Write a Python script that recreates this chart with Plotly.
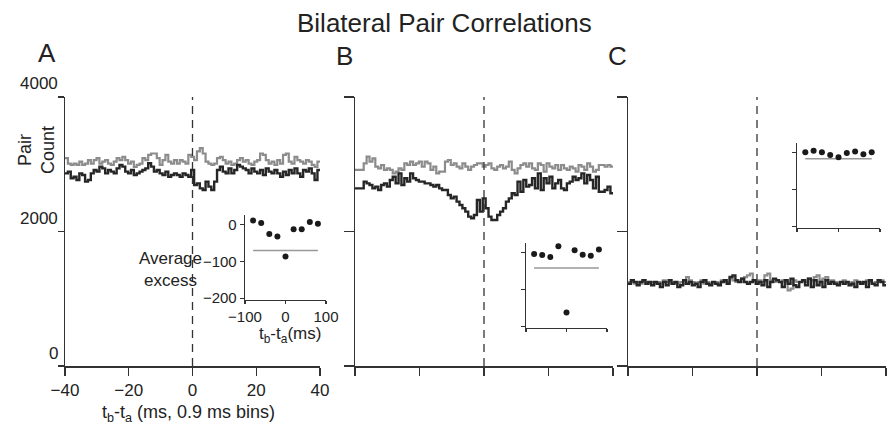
import numpy as np
import plotly.graph_objects as go

# ---------------- data ----------------
bin_width = 0.9  # ms
x_start = -40.0

a_gray = [3090, 3010, 2990, 3010, 2990, 3040, 2990, 3010, 3060, 3010,
          3060, 3090, 3010, 3040, 3060, 3010, 2990, 3040, 3090, 3060,
          3110, 3060, 3010, 3040, 2960, 2990, 3010, 3090, 3060, 3140,
          3160, 3160, 3090, 2990, 3060, 3140, 3040, 3010, 3060, 3010,
          3060, 3040, 3010, 3140,
          3110, 3060, 3190, 3240, 3160, 3040,
          3010, 2990, 3010, 3090, 3110, 3060, 3010, 3040, 2990, 3010,
          3060, 3090, 3040, 3060, 3010, 2990, 3040, 3060, 3160, 3140,
          3060, 3010, 3040, 2990, 3060, 3010, 3140, 3160, 3040, 3010,
          3110, 3060, 3040, 3010, 3060, 3040, 2990, 2960, 3040]
a_black = [2865, 2890, 2791, 2815, 2766, 2865, 2840, 2741, 2766, 2865,
           2915, 2890, 2964, 2939, 2865, 2915, 2890, 2865, 2939, 2989,
           2964, 2890, 2865, 2915, 2840, 2865, 2890, 2915, 2939, 3014,
           2964, 2890, 2915, 2865, 2840, 2890, 2815, 2840, 2865, 2840,
           2815, 2865, 2840, 2815, 2915,
           2691, 2716, 2642, 2617, 2741, 2667, 2617, 2741,
           2915, 2964, 2890, 2865, 2939, 2865, 2915,
           2989, 2964, 2939, 2915, 2865, 2939, 2890, 2865, 2915, 2840,
           2939, 2890, 2865, 2915, 2865, 2815, 2890, 2840, 2915, 2865,
           2939, 2865, 2815, 2915, 2890, 2939, 2865, 2766, 2915]
b_gray = [2915, 2915, 2915, 3014, 3113, 3038, 3088, 2964, 2939, 2989,
          2915, 2939, 2915, 2865, 2890, 2939, 2915, 3014, 2989, 3038,
          2989, 3014, 3038, 2964, 3038, 3014, 2915, 2964, 2865, 2890,
          2890, 3038, 3063, 2989, 3014, 2964, 2939, 3014, 2964, 2915,
          2964, 2989, 3014, 3014, 2964, 2989, 3014, 2939, 2915, 2964,
          2989, 2939, 2964, 3038, 2915, 2865, 2939, 2989, 3014, 2964,
          3014, 2939, 2915, 3014, 2989, 2890, 3014, 2964, 2939, 2989,
          2915, 2989, 2939, 2915, 2964, 2939, 2890, 2989, 2964, 2915,
          3014, 2964, 2890, 2915, 2989, 2989, 2964, 2989, 2964]
b_black = [2642, 2642, 2642, 2741, 2716, 2691, 2642, 2667, 2617, 2691,
           2716, 2667, 2766, 2815, 2716, 2865, 2691, 2791, 2741, 2865,
           2791, 2766, 2741, 2741, 2716, 2716, 2691, 2667, 2691, 2642,
           2617, 2617, 2543, 2493, 2518, 2444, 2394, 2345, 2295, 2221,
           2196, 2245, 2468, 2295, 2493, 2345, 2221, 2171, 2171, 2245,
           2295, 2345, 2444, 2493, 2568, 2543, 2741, 2592, 2766, 2667,
           2691, 2791, 2642, 2865, 2617, 2791, 2716, 2815, 2642, 2716,
           2766, 2642, 2617, 2716, 2741, 2815, 2766, 2791, 2865, 2716,
           2840, 2766, 2642, 2815, 2592, 2592, 2617, 2667, 2568]
c_gray = [1249, 1249, 1224, 1249, 1224, 1274, 1249, 1224, 1249, 1224,
          1249, 1224, 1274, 1249, 1249, 1224, 1249, 1224, 1249, 1224,
          1323, 1274, 1249, 1224, 1249, 1274, 1224, 1249, 1224, 1249,
          1249, 1224, 1274, 1249, 1249, 1299, 1274, 1249, 1249, 1299,
          1323, 1348, 1373, 1274, 1249, 1274, 1249, 1348, 1373, 1274,
          1249, 1274, 1249, 1274, 1249, 1125, 1150, 1274, 1249, 1249,
          1274, 1249, 1299, 1274, 1323, 1348, 1274, 1299, 1323, 1249,
          1274, 1249, 1224, 1249, 1274, 1249, 1224, 1249, 1274, 1249,
          1249, 1224, 1274, 1249, 1224, 1249, 1249, 1274, 1249]
c_black = [1224, 1274, 1249, 1200, 1249, 1274, 1224, 1249, 1200, 1249,
           1224, 1175, 1249, 1200, 1274, 1224, 1249, 1175, 1200, 1274,
           1224, 1249, 1200, 1224, 1175, 1249, 1274, 1224, 1200, 1249,
           1224, 1200, 1249, 1274, 1224, 1323, 1348, 1274, 1249, 1299,
           1249, 1224, 1249, 1274, 1224, 1249, 1200, 1274, 1175, 1249,
           1299, 1274, 1249, 1175, 1274, 1224, 1299, 1200, 1175, 1249,
           1274, 1200, 1299, 1175, 1274, 1200, 1249, 1175, 1274, 1224,
           1249, 1224, 1200, 1249, 1224, 1249, 1200, 1224, 1175, 1249,
           1224, 1249, 1175, 1274, 1224, 1200, 1274, 1249, 1200]

inset_x = [-80, -60, -40, -20, 0, 20, 40, 60, 80]
inset_a = [12, 5, -25, -32, -86, -12, -12, 8, 3]
inset_b = [-3, -6, -11, 18, -163, 7, -5, -8, 9]
inset_c = [2, 6, 2, -6, -12, 0, 4, -4, 2]
avg_a, avg_b, avg_c = -70, -41, -16

main_xticks = [-40, -20, 0, 20, 40]
main_yticks = [0, 2000, 4000]
main_ytick_text = ["0", "2000", "4000"]
inset_xticks = [-100, 0, 100]
inset_yticks = [-200, -100, 0]

# ---------------- figure ----------------
W, H = 888, 432
FONT = "Liberation Sans, Arial, Helvetica, sans-serif"
AX = "#333333"
GRAY = "#8c8c8c"
BLACK = "#262626"
TXT = "#222222"


def px(x):
    return x / W


def py(y):
    return 1 - y / H


fig = go.Figure()


def step(vals):
    n = len(vals)
    edges = x_start + bin_width * np.arange(n + 1)
    return edges, list(vals) + [vals[-1]]


panels = [("", a_gray, a_black), ("2", b_gray, b_black), ("3", c_gray, c_black)]
for suf, g, b in panels:
    for vals, col, w in ((g, GRAY, 2.2), (b, BLACK, 2.4)):
        xs, ys = step(vals)
        fig.add_trace(go.Scatter(x=xs, y=ys, mode="lines", line=dict(color=col, width=w, shape="hv"),
                                 xaxis="x" + suf, yaxis="y" + suf, showlegend=False, hoverinfo="skip"))

insets = [("4", inset_a, avg_a), ("5", inset_b, avg_b), ("6", inset_c, avg_c)]
for suf, vals, avg in insets:
    fig.add_trace(go.Scatter(x=[inset_x[0], inset_x[-1]], y=[avg, avg], mode="lines",
                             line=dict(color="#999999", width=1.5),
                             xaxis="x" + suf, yaxis="y" + suf, showlegend=False, hoverinfo="skip"))
    fig.add_trace(go.Scatter(x=inset_x, y=vals, mode="markers",
                             marker=dict(color="#1a1a1a", size=6),
                             xaxis="x" + suf, yaxis="y" + suf, showlegend=False, hoverinfo="skip"))

main_tickfont = dict(family=FONT, size=17, color=TXT)
inset_tickfont = dict(family=FONT, size=15, color=TXT)

# main panel domains (pixels)
main_x = [(65, 320), (355, 613), (628, 886)]
main_y = (366, 97)
layout = dict(width=W, height=H, margin=dict(l=0, r=0, t=0, b=0, autoexpand=False),
              paper_bgcolor="white", plot_bgcolor="rgba(0,0,0,0)", showlegend=False)

for i, (x0, x1) in enumerate(main_x):
    k = "" if i == 0 else str(i + 1)
    layout["xaxis" + k] = dict(domain=[px(x0), px(x1)], range=[-40, 40], anchor="y" + k,
                               showline=True, linecolor=AX, linewidth=1.5, ticks="outside",
                               ticklen=8, tickwidth=1.3, tickcolor=AX, tickvals=main_xticks,
                               showticklabels=(i == 0), tickfont=main_tickfont, showgrid=False,
                               zeroline=False, fixedrange=True, automargin=False)
    layout["yaxis" + k] = dict(domain=[py(main_y[0]), py(main_y[1])], range=[0, 4000],
                               anchor="x" + k, showline=True, linecolor=AX, linewidth=1.5,
                               ticks="outside", ticklen=(6 if i == 0 else 10), tickwidth=1.3,
                               tickcolor=AX, tickvals=main_yticks, showticklabels=False,
                               showgrid=False, zeroline=False, fixedrange=True, automargin=False)

inset_boxes = [(245, 326, 300, 215), (526, 607, 328, 243), (797, 880, 228, 143)]
for j, (x0, x1, yb, yt) in enumerate(inset_boxes):
    k = str(j + 4)
    layout["xaxis" + k] = dict(domain=[px(x0), px(x1)], range=[-100, 100], anchor="y" + k,
                               showline=True, linecolor=AX, linewidth=1.3, ticks="outside",
                               ticklen=3, tickwidth=1.2, tickcolor=AX, tickvals=inset_xticks,
                               showticklabels=(j == 0), tickfont=inset_tickfont,
                               showgrid=False, zeroline=False, fixedrange=True, automargin=False)
    layout["yaxis" + k] = dict(domain=[py(yb), py(yt)], range=[-205, 27], anchor="x" + k,
                               showline=True, linecolor=AX, linewidth=1.3, ticks="outside",
                               ticklen=4, tickwidth=1.2, tickcolor=AX, tickvals=inset_yticks,
                               showticklabels=(j == 0), tickfont=inset_tickfont,
                               showgrid=False, zeroline=False, fixedrange=True, automargin=False)

fig.update_layout(**layout)

# dashed zero lines
for k in ["", "2", "3"]:
    fig.add_shape(type="line", xref="x" + k, yref="y" + k, x0=0, x1=0, y0=0, y1=4000,
                  line=dict(color=AX, width=1.3, dash="8px,6px"))

ann = []
# y tick labels of panel A (drawn slightly above their ticks as in the original)
for v, t in zip(main_yticks, main_ytick_text):
    ann.append(dict(text=t, xref="paper", yref="y", x=px(60), y=v, yshift=13,
                    xanchor="right", yanchor="middle", showarrow=False, font=main_tickfont))

big = dict(family=FONT, size=26, color=TXT)
ann += [
    dict(text="Bilateral Pair Correlations", x=px(444), y=py(23), font=big),
    dict(text="A", x=px(47), y=py(53), font=big),
    dict(text="B", x=px(344), y=py(56), font=big),
    dict(text="C", x=px(617), y=py(56), font=big),
    dict(text="Pair<br>Count", x=px(36), y=py(150), textangle=-90,
         font=dict(family=FONT, size=18, color=TXT)),
    dict(text="Average<br>excess", x=px(170), y=py(269),
         font=dict(family=FONT, size=17, color=TXT)),
    dict(text="t<sub>b</sub>-t<sub>a</sub>(ms)", x=px(290), y=py(335),
         font=dict(family=FONT, size=17, color=TXT)),
    dict(text="t<sub>b</sub>-t<sub>a</sub> (ms, 0.9 ms bins)", x=px(188), y=py(413),
         font=dict(family=FONT, size=18, color=TXT)),
]
for a in ann:
    a.setdefault("xref", "paper")
    a.setdefault("yref", "paper")
    a.setdefault("showarrow", False)
    a.setdefault("xanchor", "center")
    a.setdefault("yanchor", "middle")
fig.update_layout(annotations=ann)

fig.write_html("out.html",
               config={"displayModeBar": False, "staticPlot": True},
               post_script="document.body.style.margin='0';document.body.style.padding='0';"
                           "document.body.style.overflow='hidden';")
